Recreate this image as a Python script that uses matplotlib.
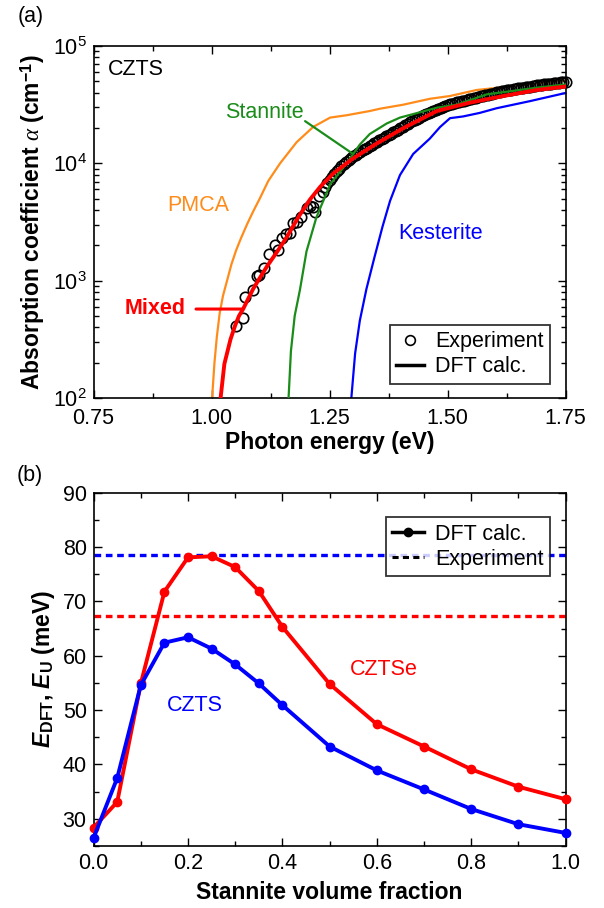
import numpy as np
import matplotlib
matplotlib.use("Agg")
import matplotlib.pyplot as plt
from matplotlib.lines import Line2D
from matplotlib.ticker import MultipleLocator, LogLocator, FormatStrFormatter, NullFormatter

plt.rcParams['font.family'] = ['Liberation Sans', 'DejaVu Sans']
plt.rcParams['mathtext.fontset'] = 'custom'
plt.rcParams['mathtext.rm'] = 'Liberation Sans:bold'
plt.rcParams['mathtext.bf'] = 'Liberation Sans:bold'
plt.rcParams['mathtext.it'] = 'Liberation Serif:italic'
plt.rcParams['mathtext.bfit'] = 'Liberation Sans:italic:bold'

# ---------------- (a) absorption spectra, CZTS ----------------
# log10 of absorption coefficient (cm^-1) vs photon energy (eV)
pmca_E = [1.001, 1.006, 1.011, 1.017, 1.024, 1.032, 1.042, 1.052, 1.062, 1.075, 1.088,
          1.102, 1.120, 1.145, 1.180, 1.215, 1.251, 1.286, 1.335, 1.357, 1.406, 1.462,
          1.505, 1.561, 1.653, 1.750]
pmca_log = [2.00, 2.30, 2.52, 2.72, 2.87, 2.99, 3.14, 3.26, 3.36, 3.48, 3.59,
            3.70, 3.85, 4.00, 4.18, 4.31, 4.39, 4.41, 4.446, 4.466, 4.50, 4.55,
            4.574, 4.625, 4.665, 4.71]

stan_E = [1.163, 1.168, 1.176, 1.187, 1.201, 1.222, 1.251, 1.286, 1.314, 1.335, 1.371,
          1.399, 1.427, 1.477, 1.519, 1.583, 1.689, 1.750]
stan_log = [2.00, 2.40, 2.70, 2.92, 3.25, 3.54, 3.82, 4.00, 4.16, 4.25, 4.34,
            4.39, 4.42, 4.474, 4.50, 4.588, 4.645, 4.673]

kest_E = [1.296, 1.304, 1.314, 1.328, 1.345, 1.362, 1.378, 1.399, 1.427, 1.462, 1.484,
          1.505, 1.533, 1.568, 1.604, 1.674, 1.750]
kest_log = [2.00, 2.38, 2.66, 2.93, 3.20, 3.46, 3.68, 3.90, 4.08, 4.21, 4.31,
            4.385, 4.40, 4.43, 4.47, 4.53, 4.60]

mixed_E = [1.019, 1.027, 1.040, 1.050, 1.058, 1.067, 1.078, 1.088, 1.100, 1.117, 1.141,
           1.159, 1.185, 1.208, 1.230, 1.258, 1.300, 1.350, 1.406, 1.477, 1.547, 1.618,
           1.689, 1.750]
mixed_log = [2.00, 2.29, 2.50, 2.62, 2.70, 2.76, 2.85, 2.93, 3.01, 3.12, 3.26,
             3.37, 3.55, 3.69, 3.80, 3.915, 4.043, 4.17, 4.30, 4.446, 4.517, 4.574,
             4.625, 4.655]

# measured spectrum: sparse points near the edge, dense points above 1.24 eV
exp_E = [1.051, 1.066, 1.071, 1.088, 1.097, 1.101, 1.112, 1.121, 1.134, 1.140, 1.150,
         1.157, 1.166, 1.173, 1.180, 1.189, 1.201, 1.208, 1.215, 1.220, 1.228, 1.236,
         1.240, 1.245, 1.250, 1.255, 1.260, 1.265, 1.270, 1.275, 1.280, 1.285,
         1.290, 1.295, 1.300, 1.305, 1.310, 1.315, 1.320, 1.325, 1.330, 1.335,
         1.340, 1.345, 1.350, 1.355, 1.360, 1.365, 1.370, 1.375, 1.380, 1.385,
         1.390, 1.395, 1.400, 1.405, 1.410, 1.415, 1.420, 1.425, 1.430, 1.435,
         1.440, 1.445, 1.450, 1.455, 1.460, 1.465, 1.470, 1.475, 1.480, 1.485,
         1.490, 1.495, 1.500, 1.505, 1.510, 1.515, 1.520, 1.525, 1.530, 1.535,
         1.540, 1.545, 1.550, 1.555, 1.560, 1.565, 1.570, 1.575, 1.580, 1.585,
         1.590, 1.595, 1.600, 1.605, 1.610, 1.615, 1.620, 1.625, 1.630, 1.635,
         1.640, 1.645, 1.650, 1.655, 1.660, 1.665, 1.670, 1.675, 1.680, 1.685,
         1.690, 1.695, 1.700, 1.705, 1.710, 1.715, 1.720, 1.725, 1.730, 1.735,
         1.740, 1.745, 1.750]
exp_log = [2.616, 2.68, 2.863, 2.92, 3.04, 3.05, 3.105, 3.227, 3.304, 3.261, 3.36,
           3.395, 3.403, 3.489, 3.50, 3.545, 3.616, 3.64, 3.63, 3.587, 3.721, 3.758,
           3.800, 3.830, 3.860, 3.885, 3.910, 3.935, 3.955, 3.975, 3.995, 4.013,
           4.030, 4.045, 4.060, 4.073, 4.085, 4.098, 4.110, 4.123, 4.135, 4.148,
           4.160, 4.173, 4.185, 4.198, 4.210, 4.220, 4.230, 4.240, 4.250, 4.263,
           4.275, 4.288, 4.300, 4.313, 4.325, 4.338, 4.350, 4.360, 4.370, 4.380,
           4.390, 4.400, 4.410, 4.420, 4.430, 4.440, 4.450, 4.458, 4.465, 4.473,
           4.480, 4.488, 4.495, 4.503, 4.510, 4.515, 4.520, 4.525, 4.530, 4.535,
           4.540, 4.545, 4.550, 4.555, 4.560, 4.565, 4.570, 4.575, 4.580, 4.585,
           4.590, 4.595, 4.600, 4.605, 4.610, 4.615, 4.620, 4.623, 4.625, 4.628,
           4.630, 4.635, 4.640, 4.643, 4.645, 4.648, 4.650, 4.655, 4.660, 4.663,
           4.665, 4.668, 4.670, 4.673, 4.675, 4.678, 4.680, 4.683, 4.685, 4.688,
           4.690, 4.693, 4.695]

# ---------------- (b) Urbach energy vs stannite fraction ----------------
frac = [0.0, 0.05, 0.1, 0.15, 0.2, 0.25, 0.3, 0.35, 0.4, 0.5, 0.6, 0.7, 0.8, 0.9, 1.0]
czts_dft = [26.5, 37.5, 54.6, 62.4, 63.4, 61.3, 58.4, 54.9, 50.9, 43.3, 38.9, 35.4, 31.8, 29.0, 27.4]
cztse_dft = [28.4, 33.1, 54.9, 71.8, 78.1, 78.3, 76.3, 71.9, 65.3, 54.8, 47.4, 43.3, 39.1, 35.9, 33.6]
czts_exp = 78.5
cztse_exp = 67.3

C_ORANGE = '#ff8c1a'
C_GREEN = '#1a8c1a'
C_BLUE = '#0000ff'
C_RED = '#ff0000'

FS = 15.5
FS_LAB = 16.5

fig = plt.figure(figsize=(6.04, 9.08), dpi=100)
axa = fig.add_axes([0.155, 0.5617, 0.7815, 0.3876])
axb = fig.add_axes([0.155, 0.0683, 0.7815, 0.3891])


def style_axes(ax):
    for s in ax.spines.values():
        s.set_linewidth(1.2)
    ax.tick_params(which='both', direction='in', top=True, right=True,
                   labelsize=FS, width=1.0)
    ax.tick_params(which='major', length=6)
    ax.tick_params(which='minor', length=3.5)


# panel (a)
axa.set_yscale('log')
axa.plot(pmca_E, 10 ** np.array(pmca_log), color=C_ORANGE, lw=1.6)
axa.plot(stan_E, 10 ** np.array(stan_log), color=C_GREEN, lw=1.6, zorder=4)
axa.plot(kest_E, 10 ** np.array(kest_log), color=C_BLUE, lw=1.6)
axa.plot(exp_E, 10 ** np.array(exp_log), ls='none', marker='o', ms=7.5,
         mfc='none', mec='black', mew=1.2, clip_on=False, zorder=3)
axa.plot(mixed_E, 10 ** np.array(mixed_log), color=C_RED, lw=2.8, zorder=5)

axa.set_xlim(0.75, 1.75)
axa.set_ylim(1e2, 1e5)
axa.xaxis.set_major_locator(MultipleLocator(0.25))
axa.xaxis.set_minor_locator(MultipleLocator(0.125))
axa.xaxis.set_major_formatter(FormatStrFormatter('%.2f'))
axa.yaxis.set_major_locator(LogLocator(base=10, numticks=10))
axa.yaxis.set_minor_locator(LogLocator(base=10, subs=np.arange(2, 10), numticks=20))
axa.yaxis.set_minor_formatter(NullFormatter())
style_axes(axa)
axa.tick_params(axis='x', pad=7.5)
axa.tick_params(axis='y', pad=5)

axa.set_xlabel('Photon energy (eV)', fontsize=FS_LAB, fontweight='bold', labelpad=1)
axa.set_ylabel(r'Absorption coefficient $\alpha$ (cm$^{-1}$)', fontsize=FS_LAB,
               fontweight='bold', labelpad=4)

axa.text(0.03, 0.933, 'CZTS', transform=axa.transAxes, fontsize=FS, va='center', ha='left')
axa.text(0.221, 0.548, 'PMCA', transform=axa.transAxes, fontsize=FS, color=C_ORANGE,
         ha='center', va='center')
axa.text(0.734, 0.466, 'Kesterite', transform=axa.transAxes, fontsize=FS, color=C_BLUE,
         ha='center', va='center')
axa.text(0.361, 0.81, 'Stannite', transform=axa.transAxes, fontsize=FS, color=C_GREEN,
         ha='center', va='center')
axa.text(0.13, 0.253, 'Mixed', transform=axa.transAxes, fontsize=FS, color=C_RED,
         ha='center', va='center', fontweight='bold')
# leader lines for the labels
axa.annotate('', xy=(1.300, 1.2e4), xytext=(1.198, 2.29e4),
             arrowprops=dict(arrowstyle='-', color=C_GREEN, lw=1.6, shrinkA=0, shrinkB=0))
axa.annotate('', xy=(1.066, 573), xytext=(0.967, 573),
             arrowprops=dict(arrowstyle='-', color=C_RED, lw=2.2, shrinkA=0, shrinkB=0))

leg_a = axa.legend([Line2D([], [], ls='none', marker='o', ms=7, mfc='none', mec='black', mew=1.2),
                    Line2D([], [], color='black', lw=2.5)],
                   ['Experiment', 'DFT calc.'], loc='lower right',
                   bbox_to_anchor=(0.967, 0.04), fontsize=FS, frameon=True, fancybox=False,
                   edgecolor='black', handlelength=1.3, handletextpad=0.5,
                   borderpad=0.3, labelspacing=0.2, borderaxespad=0)
leg_a.get_frame().set_linewidth(1.3)

# panel (b)
axb.axhline(czts_exp, color=C_BLUE, lw=2.4, ls=(0, (2, 1.4)))
axb.axhline(cztse_exp, color=C_RED, lw=2.4, ls=(0, (2, 1.4)))
axb.plot(frac, czts_dft, color=C_BLUE, lw=2.8, marker='o', ms=6, clip_on=False, zorder=4)
axb.plot(frac, cztse_dft, color=C_RED, lw=2.8, marker='o', ms=6, clip_on=False, zorder=3)

axb.set_xlim(0, 1.0)
axb.set_ylim(25, 90)
axb.xaxis.set_major_locator(MultipleLocator(0.2))
axb.xaxis.set_minor_locator(MultipleLocator(0.1))
axb.xaxis.set_major_formatter(FormatStrFormatter('%.1f'))
axb.yaxis.set_major_locator(MultipleLocator(10))
axb.yaxis.set_minor_locator(MultipleLocator(5))
style_axes(axb)
axb.tick_params(axis='x', pad=5)
axb.tick_params(axis='y', pad=5)

axb.set_xlabel('Stannite volume fraction', fontsize=FS_LAB, fontweight='bold', labelpad=5)
axb.set_ylabel(r'$\mathbfit{E}_{\mathbf{DFT}}$, $\mathbfit{E}_{\mathbf{U}}$ (meV)',
               fontsize=FS_LAB, fontweight='bold', labelpad=4)

axb.text(0.614, 0.4996, 'CZTSe', transform=axb.transAxes, fontsize=FS, color=C_RED,
         ha='center', va='center')
axb.text(0.215, 0.399, 'CZTS', transform=axb.transAxes, fontsize=FS, color=C_BLUE,
         ha='center', va='center')

leg_b = axb.legend([Line2D([], [], color='black', lw=2.5, marker='o', ms=6),
                    Line2D([], [], color='black', lw=2.2, ls=(0, (2, 1.4)))],
                   ['DFT calc.', 'Experiment'], loc='upper right',
                   bbox_to_anchor=(0.967, 0.931), fontsize=FS, frameon=True, fancybox=False,
                   edgecolor='black', handlelength=1.5, handletextpad=0.5,
                   borderpad=0.3, labelspacing=0.2, borderaxespad=0)
leg_b.get_frame().set_linewidth(1.3)
leg_b.set_zorder(10)

fig.text(0.05, 0.982, '(a)', fontsize=FS, ha='center', va='center')
fig.text(0.05, 0.476, '(b)', fontsize=FS, ha='center', va='center')

fig.savefig('out.png', dpi=100)
